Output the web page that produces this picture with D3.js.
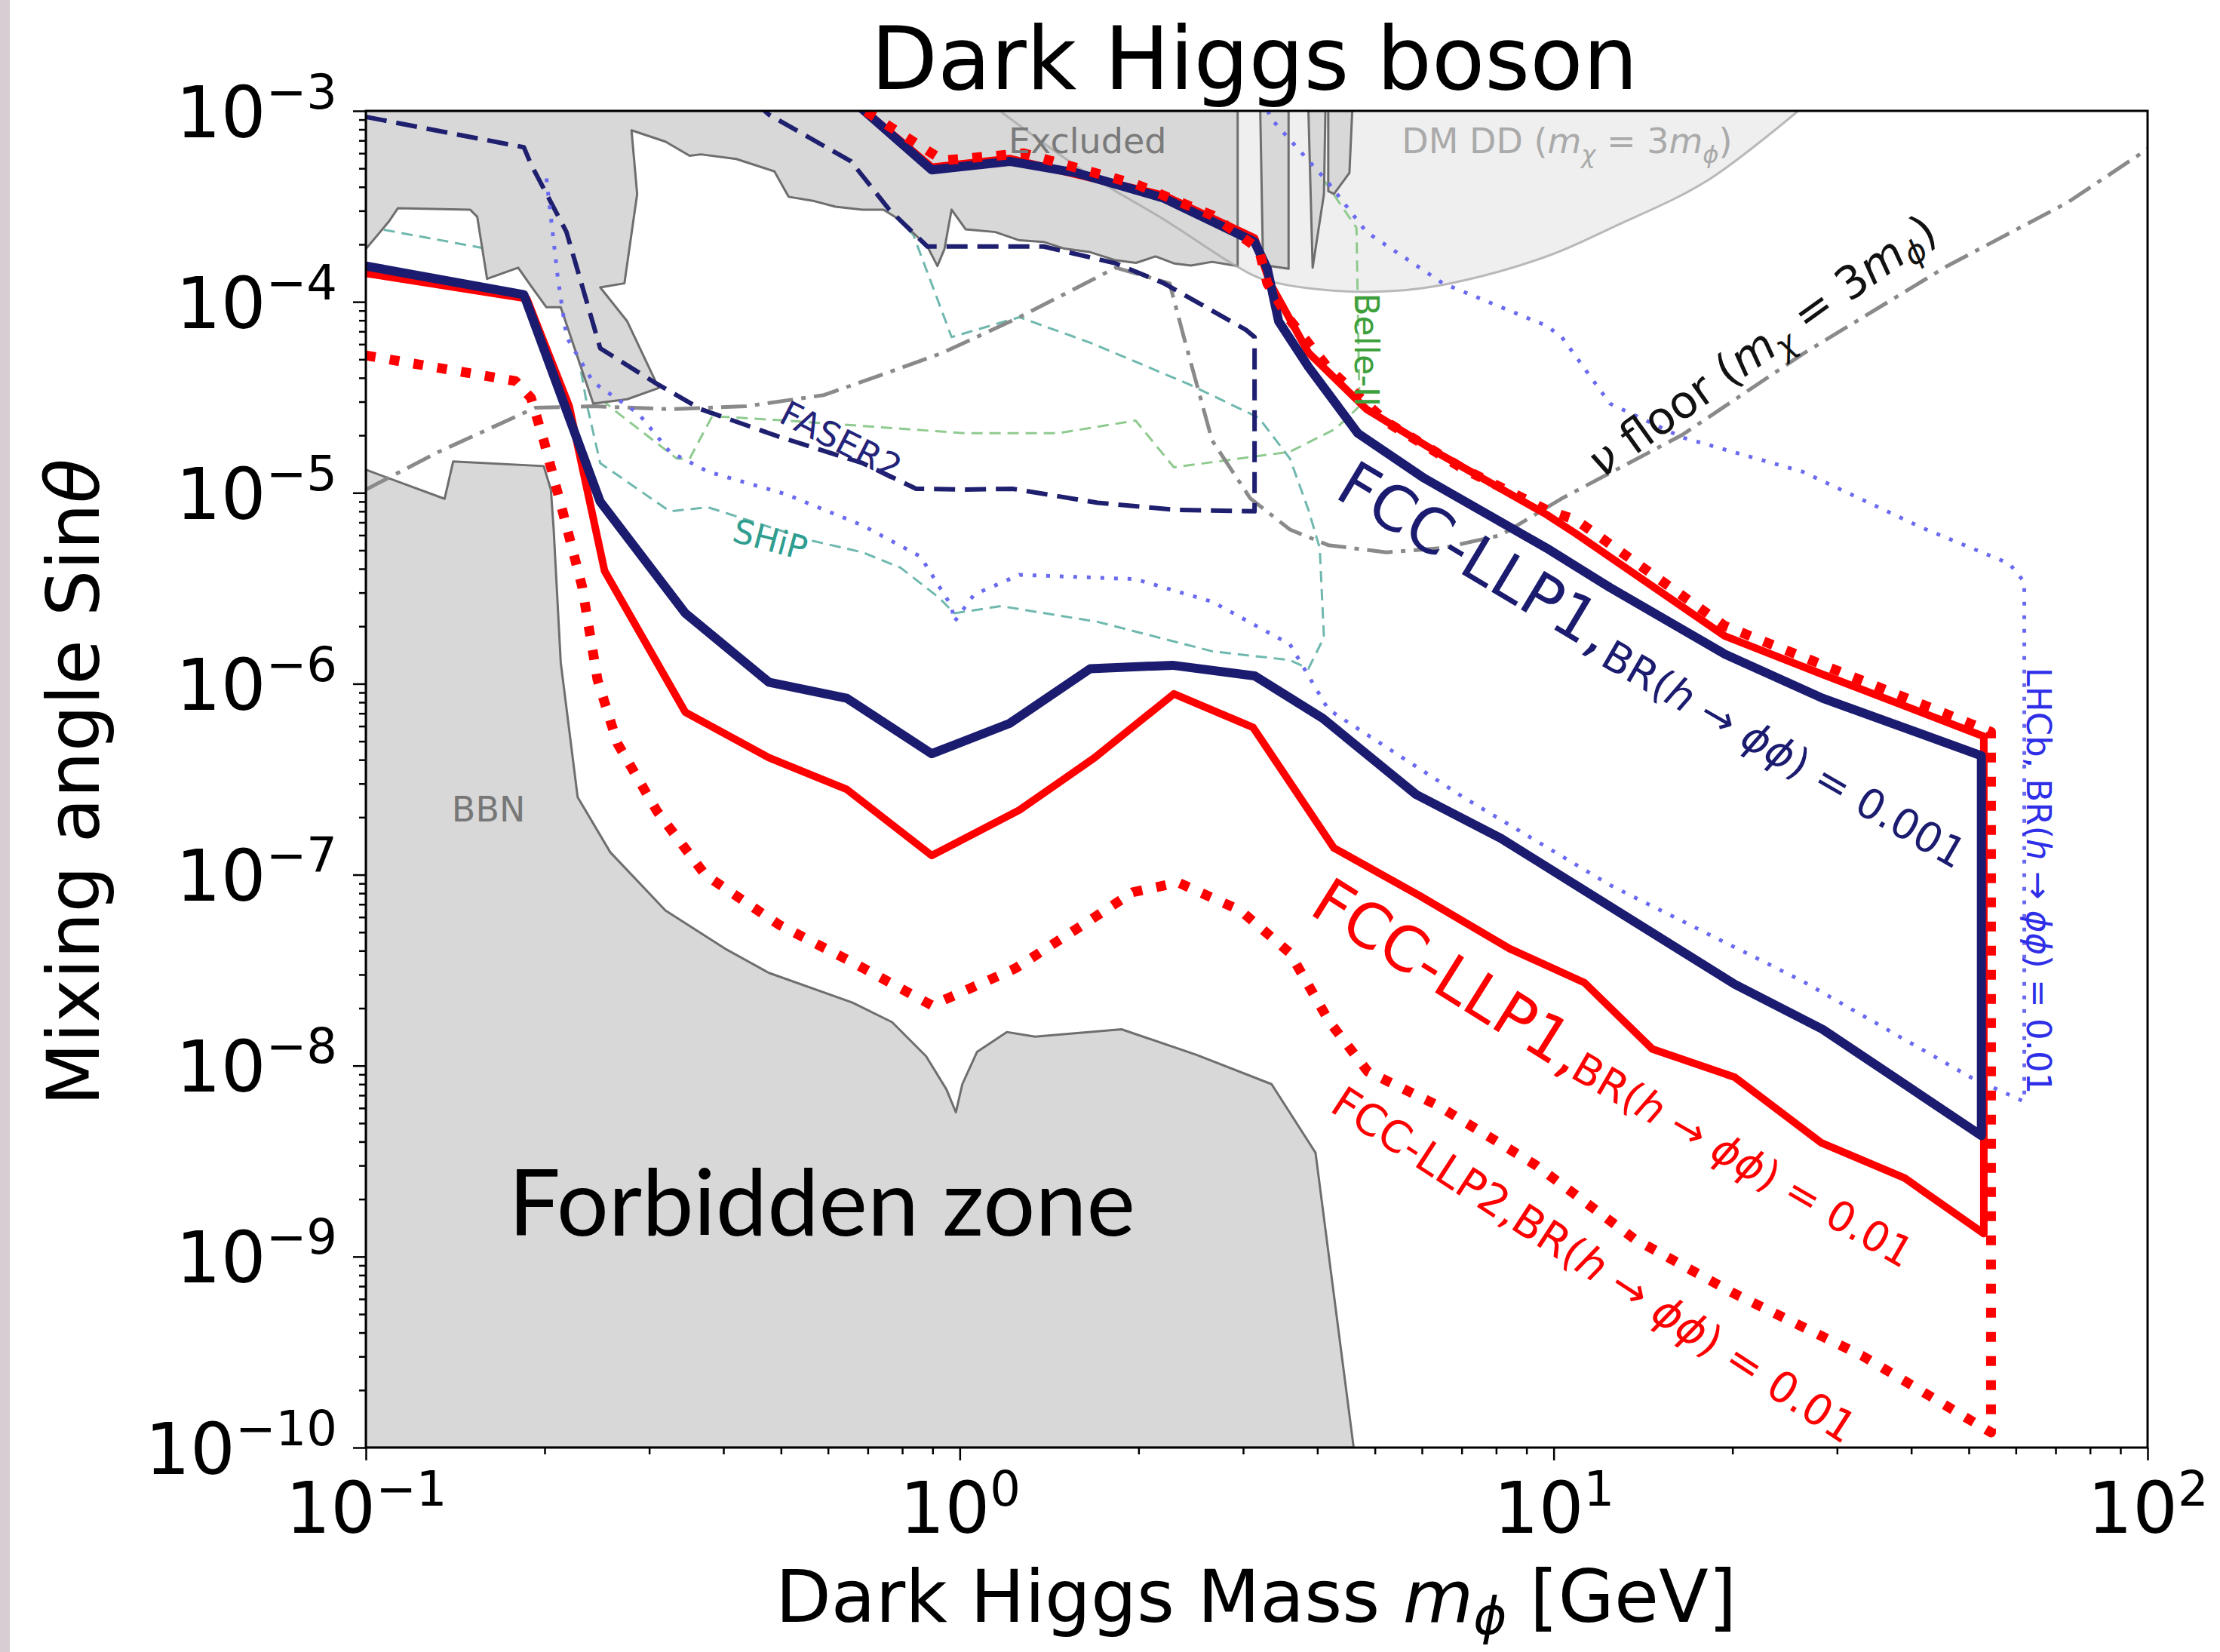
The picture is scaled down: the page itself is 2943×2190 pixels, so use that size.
<!DOCTYPE html>
<html>
<head>
<meta charset="utf-8">
<script src="https://cdn.jsdelivr.net/npm/d3@7"></script>
<style>
  body { margin: 0; background: #fff; }
  text { font-family: "DejaVu Sans", sans-serif; }
</style>
</head>
<body>
<svg id="chart"></svg>
<script>

// ---- data: [mass in GeV, sin(theta)] ----

// tick values
var xMajor = [0.1, 1, 10, 100];
var yMajor = [1e-10, 1e-9, 1e-8, 1e-7, 1e-6, 1e-5, 1e-4, 1e-3];

// FCC-LLP1, BR(h->phi phi) = 0.001 (navy, solid)
var llp1Br001 = [[0.1,1.54e-4],[0.1845,1.09e-4],[0.248,9.0e-6],[0.345,2.34e-6],[0.477,1.02e-6],[0.645,8.4e-7],
  [0.897,4.3e-7],[1.213,6.2e-7],[1.659,1.2e-6],[2.281,1.25e-6],[3.136,1.1e-6],[4.083,6.6e-7],[5.866,2.63e-7],
  [8.15,1.55e-7],[10.91,8.8e-8],[20.17,2.67e-8],[28.36,1.55e-8],[52.5,4.3e-9],[52.5,4.2e-7],[28.36,8.4e-7],
  [19.41,1.43e-6],[12.44,3.19e-6],[9.72,5.14e-6],[6.06,1.19e-5],[4.68,2.05e-5],[3.864,4.57e-5],[3.443,7.9e-5],
  [3.295,1.49e-4],[3.136,2.06e-4],[2.207,3.49e-4],[1.57,4.74e-4],[1.213,5.44e-4],[0.897,4.91e-4],[0.693,9.9e-4],[0.652,1.17e-3]];

// FCC-LLP1, BR = 0.01 (red, solid)
var llp1Br01 = [[0.1,1.41e-4],[0.1866,1.04e-4],[0.22,2.84e-5],[0.2523,3.9e-6],[0.345,7.1e-7],[0.477,4.1e-7],
  [0.645,2.8e-7],[0.897,1.26e-7],[1.26,2.18e-7],[1.687,4.1e-7],[2.294,8.85e-7],[3.119,5.9e-7],[4.266,1.38e-7],
  [5.93,7.8e-8],[8.43,4.1e-8],[11.27,2.72e-8],[14.67,1.22e-8],[20.17,8.7e-9],[28.2,3.95e-9],[38.98,2.58e-9],
  [53,1.32e-9],[53,5.3e-7],[28.36,1.12e-6],[19.41,1.78e-6],[10.91,6.1e-6],[9.72,7.7e-6],[6.51,1.56e-5],[4.84,2.74e-5],
  [3.864,5.42e-5],[3.331,1.25e-4],[3.136,2.16e-4],[2.207,3.61e-4],[1.213,5.63e-4],[0.897,5.07e-4],[0.652,1.17e-3]];

// FCC-LLP2, BR = 0.01 (red, dotted)
var llp2Br01 = [[0.1,5.24e-5],[0.1786,3.85e-5],[0.1897,3.14e-5],[0.1993,1.88e-5],[0.2141,8.15e-6],[0.2312,3.24e-6],
  [0.2455,1.05e-6],[0.2652,4.87e-7],[0.3092,2.15e-7],[0.3725,1.0e-7],[0.4958,5.48e-8],[0.6631,3.45e-8],[0.897,2.07e-8],
  [1.24,3.23e-8],[1.614,5.48e-8],[1.956,8.1e-8],[2.332,9.1e-8],[2.969,6.5e-8],[3.597,3.89e-8],[4.196,1.69e-8],
  [4.867,9.3e-9],[6.37,6.2e-9],[9.35,3.0e-9],[13.66,1.24e-9],[19.95,6.5e-10],[33.24,3.0e-10],[54.5,1.2e-10],
  [54.5,5.6e-7],[19.41,2.01e-6],[10.91,7.2e-6],[9.72,8.15e-6],[7.03,1.34e-5],[5.23,2.35e-5],[4.173,4.5e-5],
  [3.578,8.2e-5],[3.295,1.25e-4],[3.189,1.89e-4],[2.66,2.84e-4],[1.977,4.14e-4],[1.282,6.0e-4],[0.937,5.5e-4],
  [0.693,1.0e-3],[0.652,1.21e-3]];

// excluded region (grey) and its thin stripes near 3-4.5 GeV
var excluded = [[0.1,1e-3],[2.937,1e-3],[2.937,1.54e-4],[2.66,1.62e-4],[2.45,1.55e-4],[2.294,1.59e-4],[2.136,1.73e-4],
  [1.98,1.6e-4],[1.831,1.65e-4],[1.659,1.82e-4],[1.5,1.9e-4],[1.384,2.06e-4],[1.26,2.1e-4],[1.148,2.32e-4],[1.023,2.4e-4],
  [0.9687,3.04e-4],[0.9423,1.89e-4],[0.917,1.54e-4],[0.882,1.95e-4],[0.791,2.7e-4],[0.744,3.04e-4],[0.686,3.04e-4],
  [0.6174,3.15e-4],[0.5687,3.37e-4],[0.515,3.55e-4],[0.4875,4.82e-4],[0.4204,5.6e-4],[0.3665,5.92e-4],[0.3509,5.82e-4],
  [0.3195,6.9e-4],[0.2801,7.91e-4],[0.2863,3.67e-4],[0.2725,1.25e-4],[0.2481,1.19e-4],[0.2755,7.9e-5],[0.3112,3.54e-5],
  [0.2755,3.09e-5],[0.2415,2.93e-5],[0.2129,9.37e-5],[0.2014,9.37e-5],[0.1897,1.21e-4],[0.1805,1.51e-4],[0.16,1.32e-4],
  [0.154,2.79e-4],[0.1498,3.04e-4],[0.1132,3.09e-4],[0.1095,2.65e-4],[0.1,1.89e-4]];
var stripeA = [[3.206,1e-3],[3.578,1e-3],[3.578,1.49e-4],[3.241,1.56e-4]];
var stripeB = [[3.864,1e-3],[4.127,1e-3],[4.104,3.67e-4],[3.928,1.51e-4]];
var stripeC = [[4.173,1e-3],[4.58,1e-3],[4.53,4.74e-4],[4.266,3.67e-4],[4.173,3.8e-4]];

// BBN region
var bbn = [[0.1,1.32e-5],[0.1357,9.3e-6],[0.1403,1.46e-5],[0.1993,1.38e-5],[0.2049,1.04e-5],[0.2071,6.5e-6],
  [0.2129,1.29e-6],[0.2273,2.55e-7],[0.258,1.31e-7],[0.3195,6.5e-8],[0.4025,4.1e-8],[0.4773,3.06e-8],[0.6598,2.14e-8],
  [0.7691,1.69e-8],[0.8777,1.12e-8],[0.95,7.5e-9],[0.985,5.7e-9],[1.01,8.0e-9],[1.069,1.18e-8],[1.2,1.5e-8],
  [1.339,1.42e-8],[1.872,1.55e-8],[2.504,1.14e-8],[3.35,8.0e-9],[3.972,3.5e-9],[4.605,1e-10],[0.1,1e-10]];

// DM direct detection boundary (m_chi = 3 m_phi)
var dmDd = [[1.168,1e-3],[1.659,4.58e-4],[2.207,2.7e-4],[2.92,1.54e-4],[3.223,1.32e-4],[4.173,1.15e-4],[5.61,1.15e-4],
  [7.11,1.3e-4],[9.88,1.76e-4],[12.65,2.48e-4],[18.07,4.28e-4],[25.8,1e-3]];

// neutrino floor
var nuFloor = [[0.1,1.04e-5],[0.1327,1.64e-5],[0.1929,2.79e-5],[0.2415,2.84e-5],[0.3249,2.74e-5],[0.437,2.84e-5],
  [0.5908,3.25e-5],[0.7951,4.5e-5],[0.937,5.42e-5],[1.26,8.31e-5],[1.831,1.51e-4],[2.256,1.25e-4],[2.384,6.54e-5],
  [2.66,1.88e-5],[3.085,9.34e-6],[3.597,6.42e-6],[4.173,5.32e-6],[5.23,4.88e-6],[6.51,5.14e-6],[8.15,6.0e-6],
  [10.32,9.34e-6],[16.46,2.01e-5],[26.25,5.33e-5],[45.97,1.54e-4],[73.3,3.31e-4],[100.2,6.34e-4]];

// FASER2
var faser2 = [[0.1,9.3e-4],[0.1845,6.45e-4],[0.1897,5.25e-4],[0.2177,2.32e-4],[0.2481,5.71e-5],[0.306,3.79e-5],
  [0.3665,2.74e-5],[0.493,1.98e-5],[0.686,1.43e-5],[0.8446,1.05e-5],[1.023,1.04e-5],[1.227,1.05e-5],[1.706,8.87e-6],
  [2.294,8.15e-6],[3.136,8.0e-6],[3.136,6.54e-5],[3.034,7.13e-5],[2.207,1.25e-4],[1.831,1.59e-4],[1.384,1.95e-4],
  [0.882,1.95e-4],[0.7608,3.04e-4],[0.656,5.44e-4],[0.4773,9.55e-4],[0.4566,1.08e-3]];

// SHiP
var ship = [[0.1,2.48e-4],[0.1566,1.92e-4],[0.195,1.44e-4],[0.2236,7.25e-5],[0.2362,2.79e-5],[0.2481,1.43e-5],
  [0.3249,8.0e-6],[0.3767,8.4e-6],[0.5655,5.6e-6],[0.686,4.88e-6],[0.7951,4.05e-6],[0.922,2.83e-6],[0.979,2.34e-6],
  [1.174,2.55e-6],[1.706,2.11e-6],[2.66,1.48e-6],[3.597,1.33e-6],[3.864,1.2e-6],[4.104,1.75e-6],[4.037,5.14e-6],
  [3.864,8.15e-6],[3.597,1.51e-5],[3.189,2.47e-5],[2.423,3.72e-5],[1.659,6.11e-5],[1.26,8.31e-5],[0.9687,6.54e-5],
  [0.8354,2.24e-4],[0.7283,3.49e-4]];

// Belle-II
var belle2 = [[0.2495,3.09e-5],[0.2607,2.74e-5],[0.3339,1.51e-5],[0.3509,1.51e-5],[0.383,2.52e-5],[0.5097,2.39e-5],
  [1.023,2.05e-5],[1.462,2.05e-5],[1.977,2.39e-5],[2.294,1.36e-5],[3.597,1.64e-5],[4.29,2.16e-5],[4.71,2.84e-5],
  [4.656,2.44e-4],[3.993,4.91e-4]];

// LHCb, BR = 0.01
var lhcb = [[0.2014,4.43e-4],[0.2106,1.32e-4],[0.2177,6.54e-5],[0.2415,3.79e-5],[0.2877,2.6e-5],[0.3249,1.64e-5],
  [0.3767,1.29e-5],[0.5097,9.83e-6],[0.686,6.75e-6],[0.8585,4.64e-6],[0.9687,2.55e-6],[0.979,2.11e-6],[1.057,2.93e-6],
  [1.26,3.72e-6],[1.977,3.53e-6],[2.66,2.69e-6],[3.597,1.61e-6],[4.173,7.34e-7],[7.11,2.5e-7],[12.44,8.83e-8],
  [26.25,2.77e-8],[50.47,8.66e-9],[62,6.48e-9],[62,3.41e-6],[58.5,4.26e-6],[41.86,6.53e-6],[26.25,1.29e-5],
  [16.46,1.95e-5],[12.44,2.93e-5],[10.32,6.54e-5],[9.72,7.5e-5],[6.51,1.25e-4],[4.84,2.32e-4],[4.173,4.21e-4],
  [3.331,9.23e-4],[3.259,1.15e-3]];

// ---- drawing ----
var w = 2943, h = 2190;
var plot = {left: 485, top: 147, right: 2847, bottom: 1919};

var svg = d3.select("#chart").attr("width", w).attr("height", h);
svg.append("rect").attr("width", w).attr("height", h).attr("fill", "#fff");
svg.append("rect").attr("width", 13).attr("height", h).attr("fill", "#d6ced3");

var x = d3.scaleLog().domain([0.1, 100]).range([plot.left, plot.right]);
var y = d3.scaleLog().domain([1e-10, 1e-3]).range([plot.bottom, plot.top]);

svg.append("clipPath").attr("id", "clip").append("rect")
  .attr("x", plot.left).attr("y", plot.top)
  .attr("width", plot.right - plot.left).attr("height", plot.bottom - plot.top);

var g = svg.append("g").attr("clip-path", "url(#clip)");

var line = d3.line().x(function(d) { return x(d[0]); }).y(function(d) { return y(d[1]); });
var smooth = d3.line().curve(d3.curveCatmullRom).x(function(d) { return x(d[0]); }).y(function(d) { return y(d[1]); });

function curve(pts, color, width, dash, gen) {
  return g.append("path").attr("d", (gen || line)(pts)).attr("fill", "none")
    .attr("stroke", color).attr("stroke-width", width)
    .attr("stroke-dasharray", dash || null)
    .attr("stroke-linejoin", "round");
}
function region(pts, fill, stroke, gen) {
  return g.append("path").attr("d", (gen || line)(pts) + "Z").attr("fill", fill)
    .attr("stroke", stroke).attr("stroke-width", 3).attr("stroke-linejoin", "round");
}

// DD region fill (under everything)
region(dmDd, "#efefef", "none", smooth);

// lines that sit under the excluded region
curve(ship, "#6fb8ae", 3, "15 9");
curve(belle2, "#8fca8f", 3, "15 9");

// excluded + BBN
region(excluded, "#d8d8d8", "#6e6e6e");
region(stripeA, "#d8d8d8", "#6e6e6e");
region(stripeB, "#d8d8d8", "#6e6e6e");
region(stripeC, "#d8d8d8", "#6e6e6e");
region(bbn, "#d8d8d8", "#6e6e6e");

// DD boundary, faint
curve(dmDd, "#a9a9a9", 3, null, smooth).attr("opacity", 0.8);

// other projections
curve(nuFloor, "#8a8a8a", 5, "34 11 6 11");
curve(faser2, "#1f1f6f", 6, "28 13");
curve(lhcb, "#6a6af0", 5, "5 13");

// FCC-LLP curves
curve(llp1Br01, "#ff0000", 10);
curve(llp1Br001, "#1b1b70", 12);
curve(llp2Br01, "#ff0000", 13, "13 19");

// ---- in-plot text ----
function rich(t, parts, base, subShift) {
  var shift = 0;
  parts.forEach(function(p) {
    var target = p.sub ? base * (subShift || 0.28) : (p.sup ? -base * 0.4 : 0);
    var ts = t.append("tspan").text(p.t);
    if (target !== shift) { ts.attr("dy", target - shift); shift = target; }
    if (p.sub || p.sup) ts.attr("font-size", base * 0.7);
    if (p.it) ts.attr("font-style", "italic");
  });
  return t;
}
function label(px, py, size, color, rot, anchor) {
  var t = svg.append("text")
    .attr("transform", "translate(" + x(px) + "," + y(py) + ") rotate(" + (rot || 0) + ")")
    .attr("font-size", size).attr("fill", color)
    .attr("text-anchor", anchor || "start");
  return t;
}

label(1.641, 6.02e-4, 46, "#7a7a7a", 0, "middle").text("Excluded");
rich(label(5.55, 6.02e-4, 46, "#aaaaaa"),
  [{t: "DM DD ("}, {t: "m", it: 1}, {t: "χ", sub: 1, it: 1}, {t: " = 3"}, {t: "m", it: 1}, {t: "ϕ", sub: 1, it: 1}, {t: ")"}], 46);
label(0.1609, 1.9e-7, 46, "#777777", 0, "middle").text("BBN");
label(0.4797, 5.69e-6, 44, "#2f9d8f", 15, "middle").attr("dominant-baseline", "central").text("SHiP");
label(0.631, 1.88e-5, 46, "#23237a", 27, "middle").attr("dominant-baseline", "central").text("FASER2");
label(4.84, 5.61e-5, 44, "#3c9f3c", 90, "middle").attr("dominant-baseline", "central").text("Belle-II");
rich(label(65.7, 9.3e-8, 45, "#2f2fe8", 90, "middle").attr("dominant-baseline", "central"),
  [{t: "LHCb, BR("}, {t: "h", it: 1}, {t: " → "}, {t: "ϕϕ", it: 1}, {t: ") = 0.01"}], 45);
rich(label(22.4, 5.9e-5, 60, "#111", -35.5, "middle").attr("dominant-baseline", "central"),
  [{t: "ν", it: 1}, {t: " floor ("}, {t: "m", it: 1}, {t: "χ", sub: 1, it: 1}, {t: " = 3"}, {t: "m", it: 1}, {t: "ϕ", sub: 1, it: 1}, {t: ")"}], 60);

label(4.25, 9.57e-6, 82, "#1b1b70", 31).text("FCC-LLP1,");
rich(label(11.9, 1.27e-6, 55, "#1b1b70", 30),
  [{t: "BR("}, {t: "h", it: 1}, {t: " → "}, {t: "ϕϕ", it: 1}, {t: ") = 0.001"}], 55);
label(3.85, 6.32e-8, 82, "#ff0000", 32).text("FCC-LLP1,");
rich(label(10.6, 8.8e-9, 55, "#ff0000", 30),
  [{t: "BR("}, {t: "h", it: 1}, {t: " → "}, {t: "ϕϕ", it: 1}, {t: ") = 0.01"}], 55);
rich(label(4.173, 5.85e-9, 57, "#ff0000", 33),
  [{t: "FCC-LLP2,BR("}, {t: "h", it: 1}, {t: " → "}, {t: "ϕϕ", it: 1}, {t: ") = 0.01"}], 57);

svg.append("text").attr("x", 674).attr("y", 1638)
  .style("font-family", "Lato, sans-serif").attr("font-size", 122).attr("fill", "#000")
  .text("Forbidden zone");

// ---- frame and axes ----
svg.append("rect").attr("x", plot.left).attr("y", plot.top)
  .attr("width", plot.right - plot.left).attr("height", plot.bottom - plot.top)
  .attr("fill", "none").attr("stroke", "#000").attr("stroke-width", 3);

var xMinor = [], yMinor = [];
xMajor.slice(0, -1).forEach(function(v) { for (var m = 2; m < 10; m++) xMinor.push(v * m); });
yMajor.slice(0, -1).forEach(function(v) { for (var m = 2; m < 10; m++) yMinor.push(v * m); });

function sup(d) {
  var e = Math.round(Math.log10(d));
  return (e < 0 ? "\u2212" : "") + Math.abs(e);
}

var xAx = svg.append("g").attr("transform", "translate(0," + plot.bottom + ")")
  .call(d3.axisBottom(x).tickValues(xMajor).tickSize(17).tickFormat(function() { return ""; }));
svg.append("g").attr("transform", "translate(0," + plot.bottom + ")")
  .call(d3.axisBottom(x).tickValues(xMinor).tickSize(9).tickFormat(function() { return ""; }));
var yAx = svg.append("g").attr("transform", "translate(" + plot.left + ",0)")
  .call(d3.axisLeft(y).tickValues(yMajor).tickSize(17).tickFormat(function() { return ""; }));
svg.append("g").attr("transform", "translate(" + plot.left + ",0)")
  .call(d3.axisLeft(y).tickValues(yMinor).tickSize(9).tickFormat(function() { return ""; }));

svg.selectAll(".domain").remove();
svg.selectAll(".tick line").attr("stroke", "#000").attr("stroke-width", 2.5);

xAx.attr("font-family", "DejaVu Sans").selectAll(".tick text")
  .attr("y", 113).attr("dy", null).attr("font-size", 94).attr("fill", "#000")
  .each(function(d) {
    var t = d3.select(this);
    t.append("tspan").text("10");
    t.append("tspan").attr("dy", -36).attr("font-size", 64).text(sup(d));
  });
yAx.attr("font-family", "DejaVu Sans").selectAll(".tick text")
  .attr("x", -38).attr("y", 34).attr("dy", null).attr("font-size", 94).attr("fill", "#000")
  .each(function(d) {
    var t = d3.select(this);
    t.append("tspan").text("10");
    t.append("tspan").attr("dy", -38).attr("font-size", 64).text(sup(d));
  });

// axis titles and title
rich(svg.append("text").attr("x", 1665).attr("y", 2150).attr("text-anchor", "middle")
  .attr("font-size", 96).attr("fill", "#000"),
  [{t: "Dark Higgs Mass "}, {t: "m", it: 1}, {t: "ϕ", sub: 1, it: 1}, {t: " [GeV]"}], 96, 0.17);

rich(svg.append("text").attr("transform", "translate(131,1037) rotate(-90)").attr("text-anchor", "middle")
  .attr("font-size", 97).attr("fill", "#000"),
  [{t: "Mixing angle Sin"}, {t: "θ", it: 1}], 97);

svg.append("text").attr("x", 1663).attr("y", 118).attr("text-anchor", "middle")
  .attr("font-size", 115).attr("fill", "#000").text("Dark Higgs boson");

</script>
</body>
</html>
